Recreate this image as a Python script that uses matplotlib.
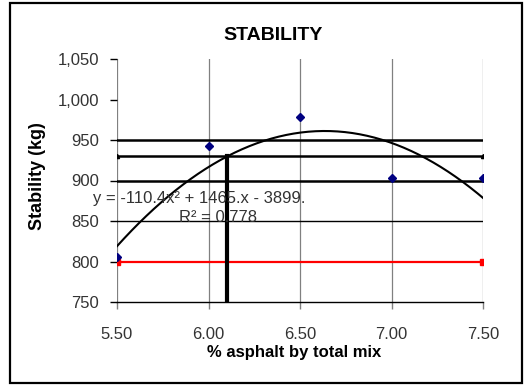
import numpy as np
import matplotlib
matplotlib.use('Agg')
import matplotlib.pyplot as plt
from matplotlib.patches import Rectangle

plt.rcParams['font.family'] = ['Liberation Sans', 'DejaVu Sans']

# measured stability
asphalt = [5.5, 6.0, 6.5, 7.0, 7.5]
stability = [805, 943, 978, 903, 903]

# trendline coefficients as printed on the chart
trend_coef = [-110.4, 1465.0, -3899.0]

# reference lines
x_ends = [5.5, 7.5]
upper_limit = [950, 950]
opt_level = [930, 930]
mid_level = [900, 900]
level_850 = [850, 850]
min_limit = [800, 800]
opt_asphalt = [6.1, 6.1]
opt_drop = [750, 930]

xticks = [5.5, 6.0, 6.5, 7.0, 7.5]
xtick_labels = ['5.50', '6.00', '6.50', '7.00', '7.50']
yticks = [750, 800, 850, 900, 950, 1000, 1050]
ytick_labels = ['750', '800', '850', '900', '950', '1,000', '1,050']


def main():
    fig = plt.figure(figsize=(5.24, 3.85), dpi=100)
    fig.patches.append(Rectangle((10 / 524, 2 / 385), 512 / 524, 380 / 385,
                                 transform=fig.transFigure, fill=False,
                                 edgecolor='black', linewidth=1.6))
    ax = fig.add_axes([117 / 524, 83 / 385, 366 / 524, 243 / 385])

    for x in xticks:
        ax.axvline(x, color='#808080', linewidth=0.9, zorder=1)

    ax.plot(x_ends, level_850, color='black', linewidth=1.0, zorder=2)
    ax.plot(x_ends, upper_limit, color='black', linewidth=1.8, zorder=2)
    ax.plot(x_ends, mid_level, color='black', linewidth=1.8, zorder=2)
    ax.plot(x_ends, opt_level, color='black', linewidth=1.8, marker='^',
            markersize=3, zorder=2)
    ax.plot(x_ends, min_limit, color='red', linewidth=1.6, marker='s',
            markersize=5, zorder=3)
    ax.plot(opt_asphalt, opt_drop, color='black', linewidth=3.0, zorder=3)

    xs = np.linspace(5.5, 7.5, 200)
    ax.plot(xs, np.polyval(trend_coef, xs), color='black', linewidth=1.5, zorder=4)
    ax.plot(asphalt, stability, linestyle='none', marker='D', markersize=4.5,
            color='#000080', zorder=5)

    ax.text(5.37, 878, 'y = -110.4x\u00b2 + 1465.x - 3899.', ha='left',
            va='center', fontsize=12, color='#333333', zorder=6,
            clip_on=False)
    ax.text(6.05, 854, 'R\u00b2 = 0.778', ha='center', va='center',
            fontsize=12, color='#333333', zorder=6)

    ax.set_xlim(5.5, 7.5)
    ax.set_ylim(750, 1050)
    ax.set_xticks(xticks)
    ax.set_xticklabels(xtick_labels)
    ax.set_yticks(yticks)
    ax.set_yticklabels(ytick_labels)
    ax.tick_params(axis='both', direction='out', length=5, width=1,
                   labelsize=12, colors='black')
    ax.tick_params(axis='x', pad=13, colors='#808080', labelcolor='#333333')
    ax.tick_params(axis='y', pad=8, labelcolor='#333333')

    for side in ['top', 'right']:
        ax.spines[side].set_visible(False)
    ax.spines['left'].set_visible(False)
    ax.spines['bottom'].set_linewidth(1.0)
    ax.set_facecolor('none')

    fig.text(273 / 524, 1 - 35 / 385, 'STABILITY', ha='center', va='center',
             fontsize=14, fontweight='bold')
    fig.text(294 / 524, 1 - 352 / 385, '% asphalt by total mix', ha='center',
             va='center', fontsize=12, fontweight='bold')
    fig.text(38 / 524, 1 - 176 / 385, 'Stability (kg)', ha='center',
             va='center', rotation=90, fontsize=13, fontweight='bold')

    fig.savefig('out.png', dpi=100)


if __name__ == '__main__':
    main()
